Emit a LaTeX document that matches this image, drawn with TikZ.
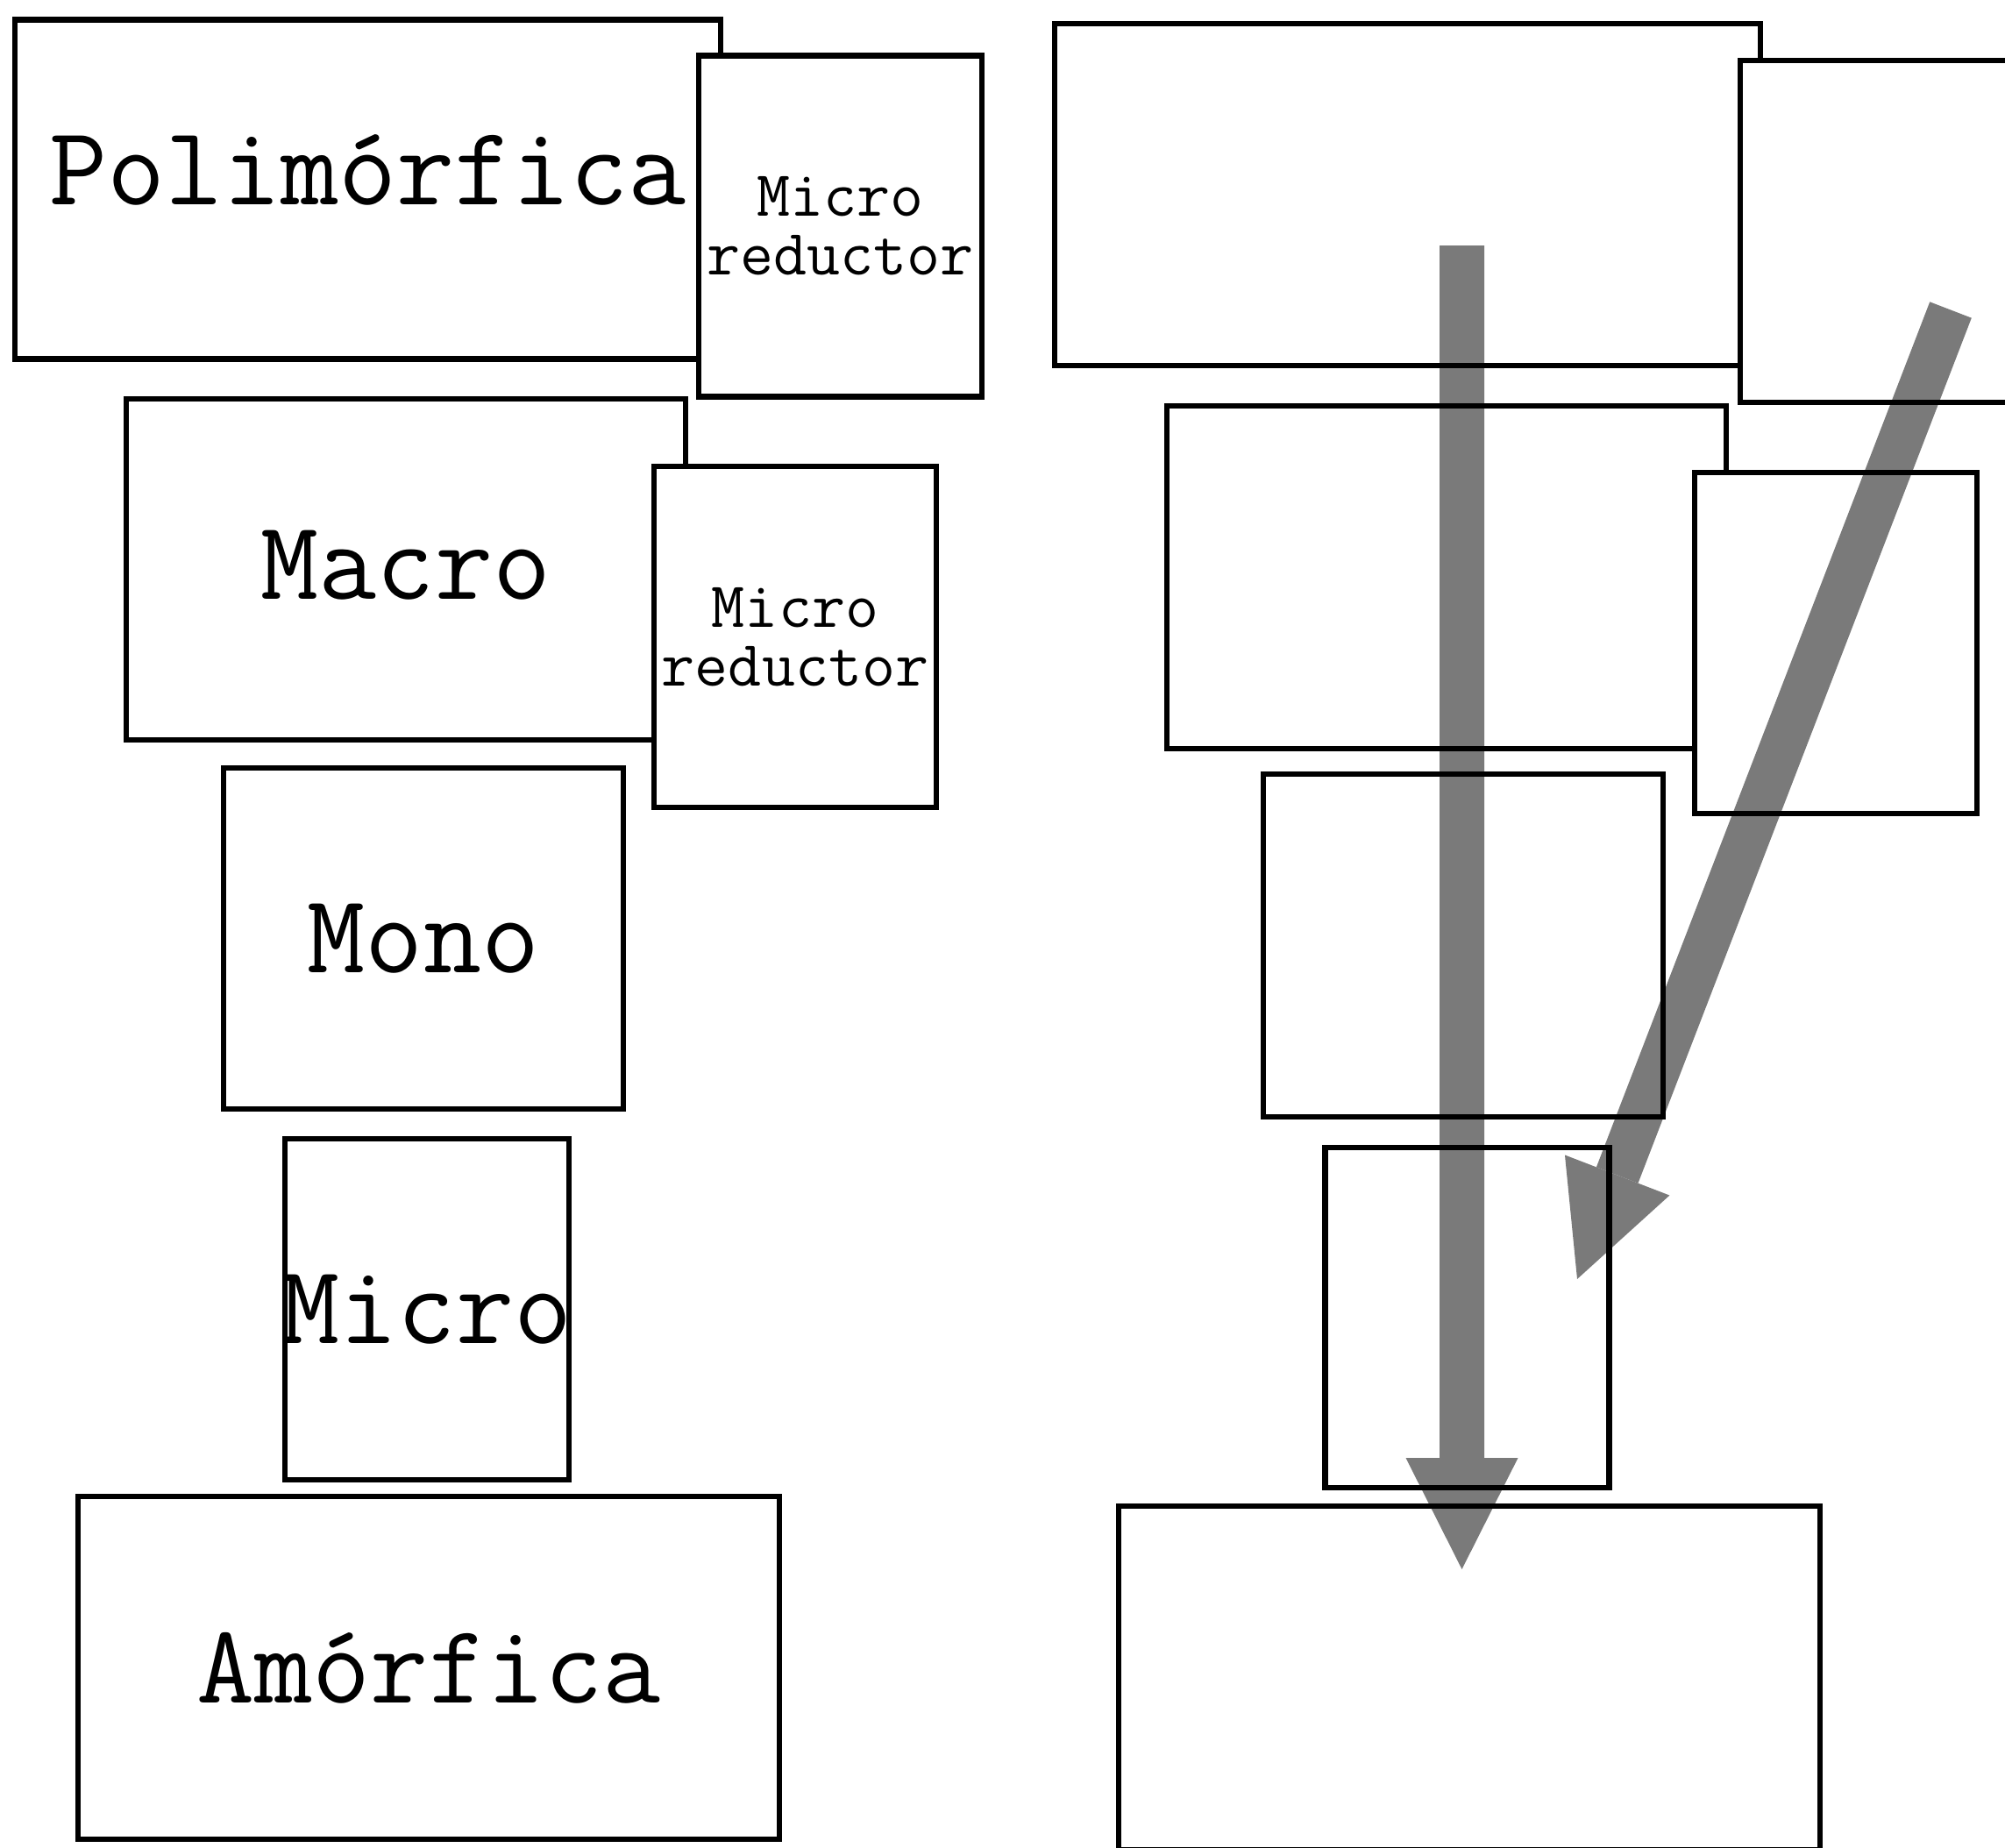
\documentclass[tikz,border=0pt]{standalone}
\usepackage{tikz}
\usetikzlibrary{arrows.meta}

\begin{document}
\begin{tikzpicture}[
phasebox/.style={draw, line width=1.8pt, fill=white, inner sep=0pt},
biglbl/.style={font=\ttfamily\fontsize{36.5}{38}\selectfont},
smalllbl/.style={font=\ttfamily\fontsize{21}{19}\selectfont, align=center},
flowarr/.style={line width=0.51cm, -{Triangle[width=1.28cm, length=1.27cm, line width=0pt]}}
]
\useasboundingbox (0,0) rectangle (22.87,-21.07);

% Left column
\node[phasebox, biglbl, text depth=0.45cm, minimum width=8.05cm, minimum height=3.87cm] (poli) at (4.195,-2.16) {Polimórfica};
\node[phasebox, smalllbl, minimum width=3.23cm, minimum height=3.89cm] (mredA) at (9.585,-2.58) {Micro\\reductor};
\node[phasebox, biglbl, text depth=0.1cm, minimum width=6.38cm, minimum height=3.89cm] (macro) at (4.63,-6.495) {Macro};
\node[phasebox, smalllbl, minimum width=3.22cm, minimum height=3.89cm] (mredB) at (9.07,-7.265) {Micro\\reductor};
\node[phasebox, biglbl, minimum width=4.56cm, minimum height=3.89cm] (mono) at (4.83,-10.705) {Mono};
\node[phasebox, biglbl, minimum width=3.24cm, minimum height=3.89cm] (micro) at (4.87,-14.935) {\makebox[0pt]{Micro}};
\node[phasebox, biglbl, minimum width=8.00cm, minimum height=3.91cm] (amorf) at (4.89,-19.025) {Amórfica};

% Right column
\node[phasebox, minimum width=8.05cm, minimum height=3.90cm] (poliR) at (16.055,-2.22) {};
\node[phasebox, minimum width=3.23cm, minimum height=3.90cm] (mredAR) at (21.465,-2.64) {};
\node[phasebox, minimum width=6.38cm, minimum height=3.91cm] (macroR) at (16.50,-6.585) {};
\node[phasebox, minimum width=3.22cm, minimum height=3.89cm] (mredBR) at (20.94,-7.335) {};
\node[phasebox, minimum width=4.56cm, minimum height=3.91cm] (monoR) at (16.69,-10.785) {};
\node[phasebox, minimum width=3.24cm, minimum height=3.88cm] (microR) at (16.735,-15.03) {};
\node[phasebox, minimum width=8.00cm, minimum height=3.92cm] (amorfR) at (16.76,-19.14) {};

% Arrows
\coordinate (vtop) at (16.675,-2.80);
\coordinate (vtip) at (16.675,-17.90);
\coordinate (dtop) at (22.25,-3.535);
\coordinate (dtip) at (17.99,-14.59);
\begin{scope}[transparency group, opacity=0.52]
\draw[flowarr] (vtop) -- (vtip);
\draw[flowarr] (dtop) -- (dtip);
\end{scope}
\end{tikzpicture}
\end{document}
